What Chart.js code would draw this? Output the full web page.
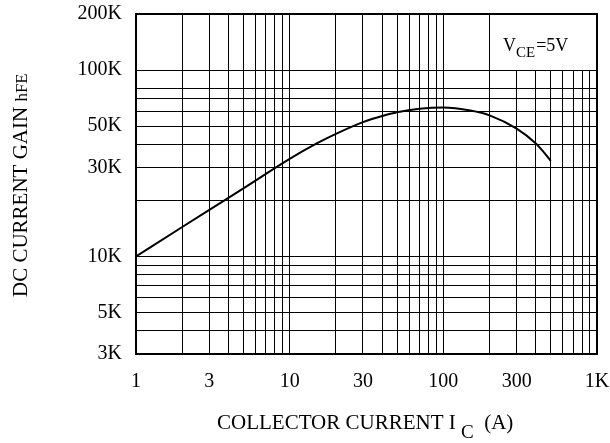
<!DOCTYPE html>
<html lang="en">
<head>
<meta charset="UTF-8" />
<title>DC Current Gain vs Collector Current</title>
<script src="https://cdn.jsdelivr.net/npm/chart.js"></script>
<style>
  body { margin: 0; background: #fff; }
  #wrap { width: 610px; height: 443px; }
</style>
</head>
<body>
<div id="wrap"><canvas id="hfeChart" width="610" height="443"></canvas></div>
<script>
  // curve (VCE = 5V)
  const currentA = [1, 2, 3, 5, 10, 15, 20, 30, 40, 50, 70, 100, 150, 200, 300, 400, 450, 500];
  const gainHfe = [10000, 14400, 17800, 23200, 33400, 40400, 45500, 52600, 56700, 59400, 62000, 63000, 60700, 57200, 48500, 40400, 36300, 32600];

  // grid lines and the few that carry a label
  const xGridValues = [1, 2, 3, 4, 5, 6, 7, 8, 9, 10, 20, 30, 40, 50, 60, 70, 80, 90, 100, 200, 300, 400, 500, 600, 700, 800, 900, 1000];
  const xLabelValues = [1, 3, 10, 30, 100, 300, 1000];
  const xLabelText = ['1', '3', '10', '30', '100', '300', '1K'];
  const yGridValues = [3000, 4000, 5000, 6000, 7000, 8000, 9000, 10000, 20000, 30000, 40000, 50000, 60000, 70000, 80000, 100000, 200000];
  const yLabelValues = [3000, 5000, 10000, 30000, 50000, 100000, 200000];
  const yLabelText = ['3K', '5K', '10K', '30K', '50K', '100K', '200K'];

  const SERIF = "'Liberation Serif', 'Times New Roman', serif";

  const labelFor = (values, texts) => (v) => {
    const i = values.indexOf(v);
    return i >= 0 ? texts[i] : '';
  };

  // fixed box sizes so the plot area lands where the datasheet has it
  const fixBox = (size, prop) => s => {
    s[prop] = size;
    s.paddingTop = s.paddingBottom = s.paddingLeft = s.paddingRight = 0;
  };

  const extras = {
    id: 'extras',
    beforeDatasetsDraw(chart) {
      const { ctx, chartArea: a, scales: { x, y } } = chart;
      // blank panel behind the test condition
      const gx = Math.round(x.getPixelForValue(200) - 0.5) + 0.5;
      const gy = Math.round(y.getPixelForValue(100000) - 0.5) + 0.5;
      ctx.save();
      ctx.fillStyle = '#fff';
      ctx.fillRect(gx + 0.5, a.top, a.right - gx - 0.5, gy - 0.5 - a.top);
      ctx.restore();
    },
    afterDraw(chart) {
      const { ctx, chartArea: a } = chart;
      ctx.save();
      ctx.strokeStyle = '#000';
      ctx.lineWidth = 2;
      ctx.strokeRect(a.left, a.top, a.right - a.left, a.bottom - a.top);

      ctx.fillStyle = '#000';
      ctx.textBaseline = 'alphabetic';
      ctx.textAlign = 'left';

      // V_CE = 5V
      let px = 503;
      ctx.font = '18px ' + SERIF;
      ctx.fillText('V', px, 51);
      px += ctx.measureText('V').width;
      ctx.font = '15px ' + SERIF;
      ctx.fillText('CE', px, 57);
      px += ctx.measureText('CE').width + 1;
      ctx.font = '18px ' + SERIF;
      ctx.fillText('=5V', px, 51);

      // x axis title
      px = 217;
      ctx.font = '21px ' + SERIF;
      ctx.fillText('COLLECTOR CURRENT I ', px, 429);
      px += ctx.measureText('COLLECTOR CURRENT I ').width;
      ctx.font = '19px ' + SERIF;
      ctx.fillText('C', px, 438);
      px += ctx.measureText('C').width;
      ctx.font = '21px ' + SERIF;
      ctx.fillText('  (A)', px, 429);

      // y axis title
      ctx.translate(27, 297);
      ctx.rotate(-Math.PI / 2);
      ctx.font = '21px ' + SERIF;
      ctx.fillText('DC CURRENT GAIN ', 0, 0);
      const w = ctx.measureText('DC CURRENT GAIN ').width;
      ctx.font = '17px ' + SERIF;
      ctx.fillText('hFE', w, 0);
      ctx.restore();
    }
  };

  new Chart(document.getElementById('hfeChart'), {
    type: 'line',
    data: {
      datasets: [{
        data: currentA.map((c, i) => ({ x: c, y: gainHfe[i] })),
        borderColor: '#000',
        borderWidth: 2,
        pointRadius: 0,
        fill: false,
        cubicInterpolationMode: 'monotone'
      }]
    },
    options: {
      responsive: false,
      animation: false,
      events: [],
      layout: { padding: { top: 14, right: 13, left: 0, bottom: 0 } },
      plugins: { legend: { display: false }, tooltip: { enabled: false } },
      scales: {
        x: {
          type: 'logarithmic',
          min: 1,
          max: 1000,
          afterBuildTicks: s => { s.ticks = xGridValues.map(v => ({ value: v })); },
          afterFit: fixBox(89, 'height'),
          grid: { color: '#000', lineWidth: 1, drawTicks: false },
          border: { display: false },
          ticks: {
            autoSkip: false,
            maxRotation: 0,
            padding: 16,
            color: '#000',
            font: { family: SERIF, size: 20 },
            callback: labelFor(xLabelValues, xLabelText)
          }
        },
        y: {
          type: 'logarithmic',
          min: 3000,
          max: 200000,
          afterBuildTicks: s => { s.ticks = yGridValues.map(v => ({ value: v })); },
          afterFit: fixBox(136, 'width'),
          grid: { color: '#000', lineWidth: 1, drawTicks: false },
          border: { display: false },
          ticks: {
            autoSkip: false,
            padding: 14,
            color: '#000',
            font: { family: SERIF, size: 20 },
            callback: labelFor(yLabelValues, yLabelText)
          }
        }
      }
    },
    plugins: [extras]
  });
</script>
</body>
</html>
